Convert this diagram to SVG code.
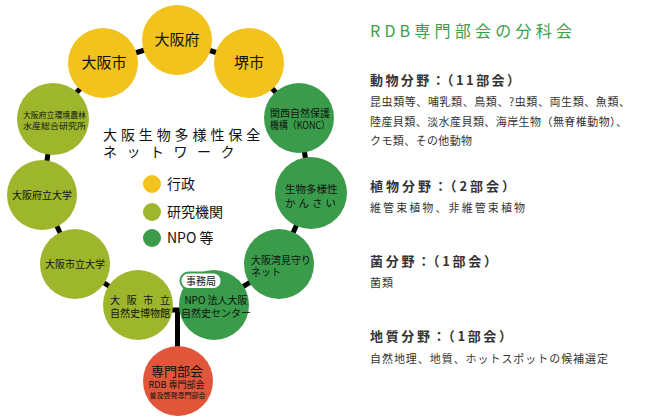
<svg xmlns="http://www.w3.org/2000/svg" width="650" height="420" viewBox="0 0 650 420">
<style>
text{font-family:"Noto Sans CJK JP","Noto Sans",sans-serif;fill:#111}
.y{fill:#F2C21D}.o{fill:#9DB62B}.g{fill:#3A9B4B}.r{fill:#E1553A}
.c{text-anchor:middle}
.link{stroke:#000;stroke-width:5;fill:none}
.h{font-weight:bold;font-size:13px;fill:#333}
.b{font-size:11px;fill:#333}
</style>
<rect width="650" height="420" fill="#fff"/>
<g id="connectors">
<line class="link" x1="103" y1="63" x2="177" y2="40"/>
<line class="link" x1="177" y1="40" x2="249" y2="63"/>
<line class="link" x1="103" y1="63" x2="53" y2="119"/>
<line class="link" x1="53" y1="119" x2="42" y2="195"/>
<line class="link" x1="42" y1="195" x2="75" y2="264"/>
<line class="link" x1="75" y1="264" x2="138" y2="305"/>
<line class="link" x1="138" y1="310" x2="214" y2="310"/>
<line class="link" x1="177.5" y1="310" x2="177.5" y2="381"/>
<line class="link" x1="214" y1="305" x2="279" y2="264"/>
<line class="link" x1="279" y1="264" x2="311" y2="193"/>
<line class="link" x1="311" y1="193" x2="299" y2="118"/>
<line class="link" x1="299" y1="118" x2="249" y2="63"/>
</g>
<g id="osaka-pref"><circle class="y" cx="177" cy="40" r="35"/><text class="c" x="177" y="45" font-size="15">大阪府</text></g>
<g id="osaka-city"><circle class="y" cx="103" cy="63" r="35"/><text class="c" x="104" y="68" font-size="15">大阪市</text></g>
<g id="sakai"><circle class="y" cx="249" cy="63" r="35"/><text class="c" x="249" y="68" font-size="15">堺市</text></g>
<g id="kankyo"><circle class="o" cx="53" cy="119" r="36"/><text class="c" x="54.5" y="118" font-size="8" textLength="63" lengthAdjust="spacingAndGlyphs">大阪府立環境農林</text><text class="c" x="54.5" y="129" font-size="8" textLength="63" lengthAdjust="spacingAndGlyphs">水産総合研究所</text></g>
<g id="fudai"><circle class="o" cx="42" cy="195" r="35"/><text class="c" x="42" y="199" font-size="10">大阪府立大学</text></g>
<g id="shidai"><circle class="o" cx="75" cy="264" r="35"/><text class="c" x="75" y="268" font-size="10">大阪市立大学</text></g>
<g id="museum"><circle class="o" cx="138" cy="305" r="35"/><text class="c" x="140" y="304" font-size="10" textLength="60" lengthAdjust="spacing">大阪市立</text><text class="c" x="140" y="317" font-size="10">自然史博物館</text></g>
<g id="npo-center"><circle class="g" cx="214" cy="305" r="35"/><text class="c" x="216" y="304" font-size="10">NPO 法人大阪</text><text class="c" x="216" y="317" font-size="10">自然史センター</text>
<rect x="180.5" y="272.5" width="41" height="16.5" rx="8" fill="#fff" stroke="#3A9B4B" stroke-width="2"/><text class="c" x="201" y="285" font-size="10">事務局</text></g>
<g id="senmon"><circle class="r" cx="178" cy="381" r="35"/><text class="c" x="177" y="375.5" font-size="13">専門部会</text><text class="c" x="176.5" y="387.5" font-size="9">RDB 専門部会</text><text class="c" x="177.5" y="398" font-size="7">普及啓発専門部会</text></g>
<g id="konc"><circle class="g" cx="299" cy="118" r="35"/><text x="270" y="116.5" font-size="10" textLength="60" lengthAdjust="spacing">関西自然保護</text><text x="270" y="128.5" font-size="10" textLength="60" lengthAdjust="spacingAndGlyphs">機構（KONC）</text></g>
<g id="kansai"><circle class="g" cx="311" cy="193" r="36"/><text x="285" y="193" font-size="10.5">生物多様性</text><text x="285" y="207" font-size="10.5" letter-spacing="3">かんさい</text></g>
<g id="bay"><circle class="g" cx="279" cy="264" r="35"/><text x="251" y="263.5" font-size="10">大阪湾見守り</text><text x="251" y="275.5" font-size="10">ネット</text></g>
<g id="title"><text x="103" y="140" font-size="14" fill="#222" letter-spacing="3.9">大阪生物多様性保全</text><text x="103" y="157" font-size="14" fill="#222" letter-spacing="9.5">ネットワーク</text></g>
<g id="legend">
<circle class="y" cx="152" cy="184" r="9"/><text x="167" y="189" font-size="14">行政</text>
<circle class="o" cx="152" cy="212" r="9"/><text x="167" y="217" font-size="14">研究機関</text>
<circle class="g" cx="152" cy="238" r="9"/><text x="167" y="243" font-size="14">NPO 等</text>
</g>
<g id="panel">
<text x="370" y="37" font-size="16" style="fill:#3AA04A" textLength="202" lengthAdjust="spacing">RDB専門部会の分科会</text>
<text class="h" x="370" y="85" textLength="150" lengthAdjust="spacing">動物分野：（11部会）</text>
<text class="b" x="370" y="106" textLength="260" lengthAdjust="spacing">昆虫類等、哺乳類、鳥類、?虫類、両生類、魚類、</text>
<text class="b" x="370" y="126" textLength="257" lengthAdjust="spacing">陸産貝類、淡水産貝類、海岸生物（無脊椎動物）、</text>
<text class="b" x="370" y="145" textLength="102" lengthAdjust="spacing">クモ類、その他動物</text>
<text class="h" x="370" y="191" textLength="145" lengthAdjust="spacing">植物分野：（2部会）</text>
<text class="b" x="370" y="212" textLength="155" lengthAdjust="spacing">維管束植物、非維管束植物</text>
<text class="h" x="370" y="266" textLength="127" lengthAdjust="spacing">菌分野：（1部会）</text>
<text class="b" x="370" y="287" textLength="23" lengthAdjust="spacing">菌類</text>
<text class="h" x="370" y="341" textLength="142" lengthAdjust="spacing">地質分野：（1部会）</text>
<text class="b" x="370" y="363" textLength="238" lengthAdjust="spacing">自然地理、地質、ホットスポットの候補選定</text>
</g>
</svg>
